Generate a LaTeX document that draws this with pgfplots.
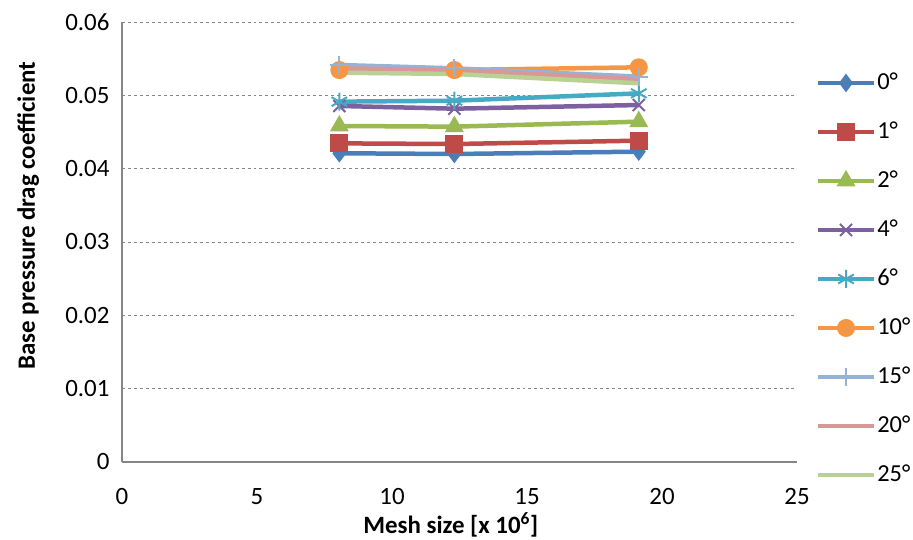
\documentclass[border=0pt]{standalone}
\usepackage{fontspec}
\setmainfont{Carlito}
\usepackage{pgfplots}
\pgfplotsset{compat=1.18}
\definecolor{c0}{HTML}{4A7EBB}
\definecolor{c1}{HTML}{BE4B48}
\definecolor{c2}{HTML}{98B954}
\definecolor{c3}{HTML}{7D60A0}
\definecolor{c4}{HTML}{46AAC5}
\definecolor{c5}{HTML}{F69544}
\definecolor{c6}{HTML}{95B3D7}
\definecolor{c7}{HTML}{D99795}
\definecolor{c8}{HTML}{B9D195}
\definecolor{axgray}{HTML}{868686}
\begin{document}
\begin{tikzpicture}
\useasboundingbox (0,0) rectangle (913bp,540bp);
\begin{axis}[
  at={(122bp,78bp)}, anchor=south west,
  scale only axis, width=675bp, height=440bp,
  xmin=0, xmax=25, ymin=0, ymax=0.06,
  xtick={0,5,...,25},
  ytick={0,0.01,0.02,0.03,0.04,0.05,0.06},
  yticklabels={0,0.01,0.02,0.03,0.04,0.05,0.06},
  scaled y ticks=false,
  axis x line*=bottom, axis y line*=left,
  axis line style={axgray, line width=1.2bp, -},
  major tick length=0pt,
  tick style={draw=none},
  ymajorgrids,
  major grid style={dashed, axgray, line width=1bp},
  /pgf/number format/assume math mode=true,
  tick label style={font=\fontsize{25}{30}\selectfont},
  xticklabel style={yshift=-23bp},
  yticklabel style={xshift=-9bp},
  xlabel={\textbf{Mesh size [x 10\textsuperscript{6}]}},
  ylabel={\textbf{Base pressure drag coefficient}},
  label style={font=\fontsize{25}{30}\selectfont},
  xlabel style={at={(axis description cs:0.487,-0.144)}, anchor=center},
  ylabel style={at={(axis description cs:-0.139,0.56)}, anchor=center},
  every axis plot/.append style={line width=4.5bp},
  legend style={draw=none, fill=none, inner sep=0pt,
    at={(axis description cs:1.0275,0.416)}, anchor=west,
    row sep=25bp, column sep=0bp,
    font=\fontsize{24.5}{30}\selectfont,
    nodes={inner sep=1bp, text height=18bp, text depth=4bp}},
  legend cell align=left,
  legend image code/.code={\draw[mark repeat=2,mark phase=2] plot coordinates {(0bp,0bp) (28bp,0bp) (56bp,0bp)};},
]
\addplot[c0, mark=diamond*, mark size=8.5bp, mark options={solid, fill=c0, line width=1bp}] coordinates {(8.05,0.0421) (12.31,0.0420) (19.14,0.04232)};
\addlegendentry{0°}
\addplot[c1, mark=square*, mark size=8.5bp, mark options={solid, fill=c1, line width=1bp}] coordinates {(8.05,0.04345) (12.31,0.04336) (19.14,0.04382)};
\addlegendentry{1°}
\addplot[c2, mark=triangle*, mark size=10bp, mark options={solid, fill=c2, line width=1bp}] coordinates {(8.05,0.04582) (12.31,0.04573) (19.14,0.04641)};
\addlegendentry{2°}
\addplot[c3, mark=x, mark size=8.5bp, mark options={solid, line width=2bp}] coordinates {(8.05,0.04855) (12.31,0.04818) (19.14,0.04868)};
\addlegendentry{4°}
\addplot[c4, mark=asterisk, mark size=9bp, mark options={solid, line width=2bp}] coordinates {(8.05,0.04914) (12.31,0.04927) (19.14,0.05027)};
\addlegendentry{6°}
\addplot[c5, mark=*, mark size=8.5bp, mark options={solid, fill=c5, line width=1bp}] coordinates {(8.05,0.05345) (12.31,0.05345) (19.14,0.05382)};
\addlegendentry{10°}
\addplot[c6, mark=+, mark size=9bp, mark options={solid, line width=2bp}] coordinates {(8.05,0.05414) (12.31,0.05368) (19.14,0.05255)};
\addlegendentry{15°}
\addplot[c7] coordinates {(8.05,0.05368) (12.31,0.05345) (19.14,0.05218)};
\addlegendentry{20°}
\addplot[c8] coordinates {(8.05,0.05309) (12.31,0.05291) (19.14,0.05164)};
\addlegendentry{25°}
\end{axis}
\end{tikzpicture}
\end{document}
